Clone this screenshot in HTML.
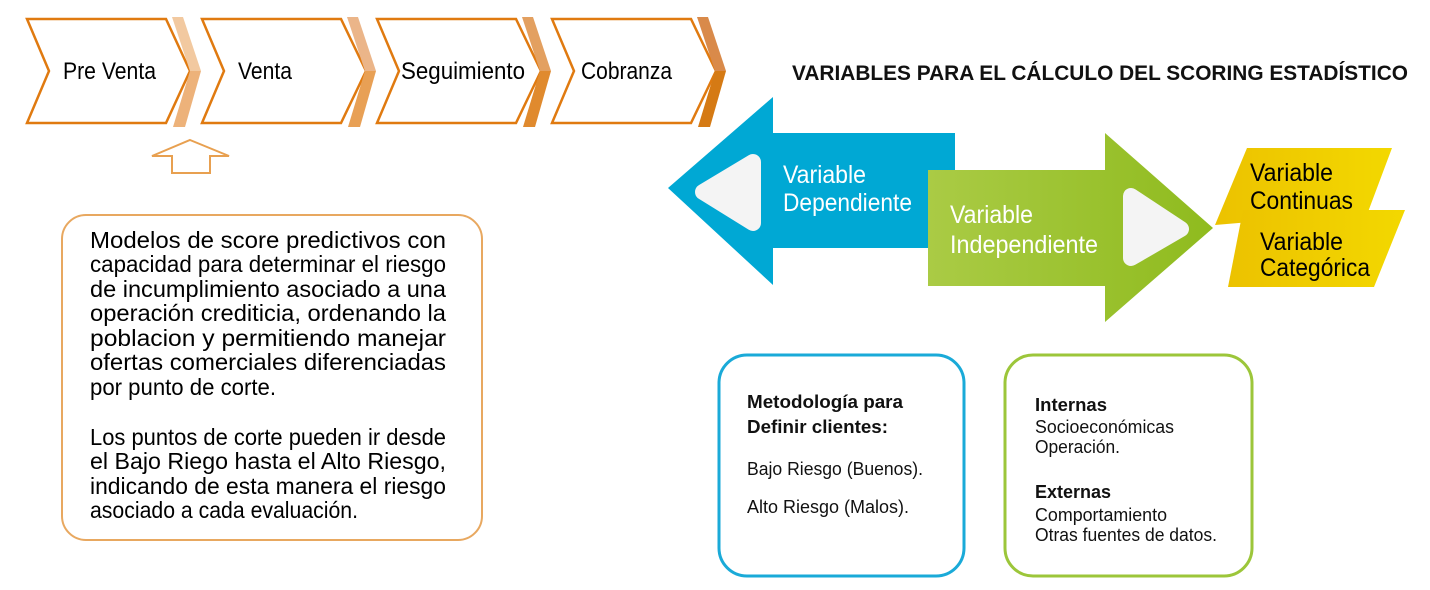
<!DOCTYPE html>
<html><head><meta charset="utf-8"><style>html,body{margin:0;padding:0;background:#fff}svg{display:block}</style></head>
<body>
<svg width="1430" height="590" viewBox="0 0 1430 590" xmlns="http://www.w3.org/2000/svg" font-family="Liberation Sans, sans-serif">
<defs>
<linearGradient id="gg" x1="0" x2="1"><stop offset="0" stop-color="#aacb45"/><stop offset="1" stop-color="#8fbb1e"/></linearGradient>
<linearGradient id="yg" x1="0" x2="1"><stop offset="0" stop-color="#ecc200"/><stop offset="1" stop-color="#f3d800"/></linearGradient>
</defs>
<g fill="#fff" stroke="#e07a10" stroke-width="2.5">
<polygon points="27,19 166,19 190,71 166,123 27,123 49,71"/>
<polygon points="202,19 341,19 366,71 341,123 202,123 224,71"/>
<polygon points="377,19 516,19 541,71 516,123 377,123 399,71"/>
<polygon points="552,19 691,19 716,71 691,123 552,123 574,71"/>
</g>
<polygon points="172,17 183,17 201,71 190,71" fill="#f2c9a0"/><polygon points="190,71 201,71 185,127 173,127" fill="#edb27a"/>
<polygon points="347,17 358,17 376,71 365,71" fill="#ebb589"/><polygon points="365,71 376,71 360,127 348,127" fill="#e8a055"/>
<polygon points="522,17 533,17 551,71 540,71" fill="#e3a060"/><polygon points="540,71 551,71 535,127 523,127" fill="#e08a2e"/>
<polygon points="697,17 708,17 726,71 715,71" fill="#d98a4a"/><polygon points="715,71 726,71 710,127 698,127" fill="#d57a14"/>
<g font-size="24" fill="#000">
<text x="63" y="79" textLength="93" lengthAdjust="spacingAndGlyphs">Pre Venta</text>
<text x="238" y="79" textLength="54" lengthAdjust="spacingAndGlyphs">Venta</text>
<text x="401" y="79" textLength="124" lengthAdjust="spacingAndGlyphs">Seguimiento</text>
<text x="581" y="79" textLength="91" lengthAdjust="spacingAndGlyphs">Cobranza</text>
</g>
<polygon points="190,140 229,156 210,156 210,173 172,173 172,156 152,156" fill="#fff" stroke="#e8a050" stroke-width="2"/>
<rect x="62" y="215" width="420" height="325" rx="24" fill="#fff" stroke="#e8a860" stroke-width="2"/>
<g font-size="23" fill="#000">
<text x="90" y="248" textLength="356" lengthAdjust="spacingAndGlyphs">Modelos de score predictivos con</text>
<text x="90" y="272" textLength="356" lengthAdjust="spacingAndGlyphs">capacidad para determinar el riesgo</text>
<text x="90" y="297" textLength="356" lengthAdjust="spacingAndGlyphs">de incumplimiento asociado a una</text>
<text x="90" y="321" textLength="356" lengthAdjust="spacingAndGlyphs">operación crediticia, ordenando la</text>
<text x="90" y="346" textLength="356" lengthAdjust="spacingAndGlyphs">poblacion y permitiendo manejar</text>
<text x="90" y="370" textLength="356" lengthAdjust="spacingAndGlyphs">ofertas comerciales diferenciadas</text>
<text x="90" y="395" textLength="186" lengthAdjust="spacingAndGlyphs">por punto de corte.</text>
<text x="90" y="445" textLength="356" lengthAdjust="spacingAndGlyphs">Los puntos de corte pueden ir desde</text>
<text x="90" y="469" textLength="356" lengthAdjust="spacingAndGlyphs">el Bajo Riego hasta el Alto Riesgo,</text>
<text x="90" y="494" textLength="356" lengthAdjust="spacingAndGlyphs">indicando de esta manera el riesgo</text>
<text x="90" y="518" textLength="268" lengthAdjust="spacingAndGlyphs">asociado a cada evaluación.</text>
</g>
<text x="792" y="80" font-size="21" font-weight="bold" fill="#111" textLength="616" lengthAdjust="spacingAndGlyphs">VARIABLES PARA EL CÁLCULO DEL SCORING ESTADÍSTICO</text>
<polygon points="668,188 773,97 773,133 955,133 955,248 773,248 773,285" fill="#00a8d4"/>
<polygon points="753,162 753,223 703,192" fill="#f4f4f4" stroke="#f4f4f4" stroke-width="16" stroke-linejoin="round"/>
<polygon points="928,170 1105,170 1105,133 1213,228 1105,322 1105,286 928,286" fill="url(#gg)"/>
<polygon points="1131,196 1131,258 1181,229" fill="#f4f4f4" stroke="#f4f4f4" stroke-width="16" stroke-linejoin="round"/>
<g font-size="25" fill="#fff">
<text x="783" y="183" textLength="83" lengthAdjust="spacingAndGlyphs">Variable</text>
<text x="783" y="211" textLength="129" lengthAdjust="spacingAndGlyphs">Dependiente</text>
<text x="950" y="223" textLength="83" lengthAdjust="spacingAndGlyphs">Variable</text>
<text x="950" y="253" textLength="148" lengthAdjust="spacingAndGlyphs">Independiente</text>
</g>
<polygon points="1247,148 1392,148 1368,212 1215,225" fill="url(#yg)"/>
<polygon points="1243,210 1405,210 1374,287 1228,287" fill="url(#yg)"/>
<g font-size="25" fill="#000">
<text x="1250" y="181" textLength="83" lengthAdjust="spacingAndGlyphs">Variable</text>
<text x="1250" y="209" textLength="103" lengthAdjust="spacingAndGlyphs">Continuas</text>
<text x="1260" y="250" textLength="83" lengthAdjust="spacingAndGlyphs">Variable</text>
<text x="1260" y="276" textLength="110" lengthAdjust="spacingAndGlyphs">Categórica</text>
</g>
<rect x="719" y="355" width="245" height="221" rx="28" fill="#fff" stroke="#1aaad8" stroke-width="3"/>
<rect x="1005" y="355" width="247" height="221" rx="28" fill="#fff" stroke="#9cc63a" stroke-width="3"/>
<g font-size="18" fill="#111">
<text x="747" y="408" font-weight="bold" textLength="156" lengthAdjust="spacingAndGlyphs">Metodología para</text>
<text x="747" y="433" font-weight="bold" textLength="141" lengthAdjust="spacingAndGlyphs">Definir clientes:</text>
<text x="747" y="475" textLength="176" lengthAdjust="spacingAndGlyphs">Bajo Riesgo (Buenos).</text>
<text x="747" y="513" textLength="162" lengthAdjust="spacingAndGlyphs">Alto Riesgo (Malos).</text>
<text x="1035" y="411" font-weight="bold" textLength="72" lengthAdjust="spacingAndGlyphs">Internas</text>
<text x="1035" y="433" textLength="139" lengthAdjust="spacingAndGlyphs">Socioeconómicas</text>
<text x="1035" y="453" textLength="85" lengthAdjust="spacingAndGlyphs">Operación.</text>
<text x="1035" y="498" font-weight="bold" textLength="76" lengthAdjust="spacingAndGlyphs">Externas</text>
<text x="1035" y="521" textLength="132" lengthAdjust="spacingAndGlyphs">Comportamiento</text>
<text x="1035" y="541" textLength="182" lengthAdjust="spacingAndGlyphs">Otras fuentes de datos.</text>
</g>
</svg>
</body></html>
